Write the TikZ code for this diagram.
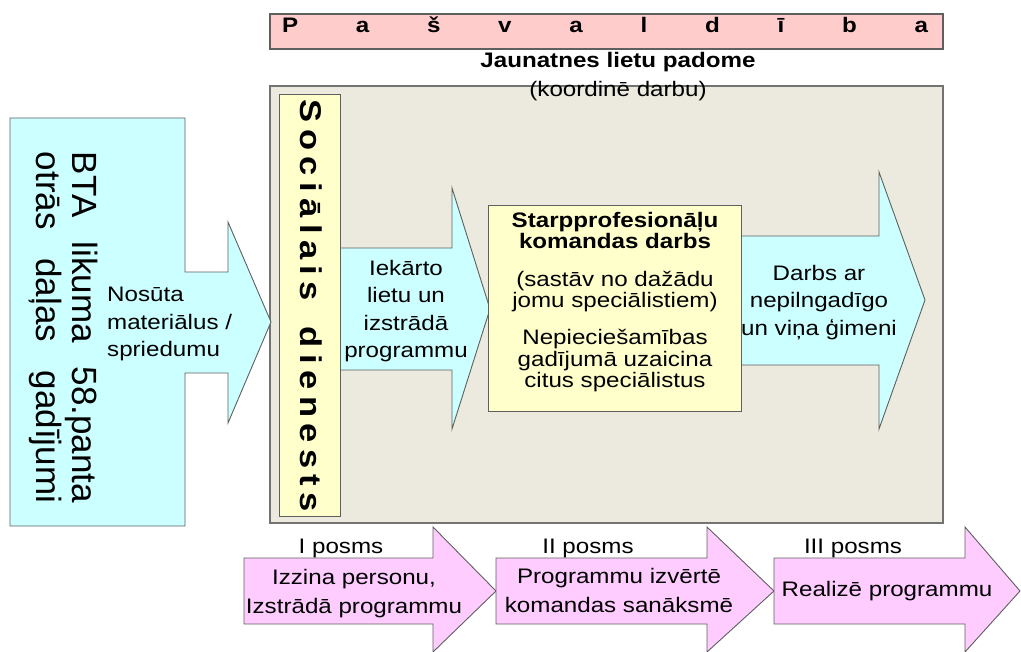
\documentclass[tikz,border=0pt]{standalone}
\usepackage{fontspec}
\setmainfont{Liberation Sans}[FakeStretch=1.15]
\newfontfamily\plainsans{Liberation Sans}
\definecolor{cyanf}{HTML}{CCFFFF}
\definecolor{pinkbar}{HTML}{FFCCCC}
\definecolor{pinkarr}{HTML}{FFCCFF}
\definecolor{yellowf}{HTML}{FFFFCC}
\definecolor{graybg}{HTML}{ECE9DF}
\definecolor{edge}{HTML}{5F5F5F}
\begin{document}
\begin{tikzpicture}[x=1pt,y=-1pt,
  shp/.style={draw=edge, line width=0.9pt, line join=miter},
  body/.style={inner sep=0pt, align=center, font=\fontsize{21}{27.5}\selectfont},
  tight/.style={inner sep=0pt, align=center, font=\fontsize{21}{21.5}\selectfont},
  boldt/.style={inner sep=0pt, align=center, font=\fontsize{21}{21}\selectfont\bfseries},
  posms/.style={inner sep=0pt, anchor=base, font=\fontsize{21}{24}\selectfont},
  stage/.style={inner sep=0pt, align=center, font=\fontsize{21}{29}\selectfont},
]
\useasboundingbox (0,0) rectangle (1021,652);

% top bar
\draw[shp, fill=pinkbar, line width=1.5pt] (270,14) rectangle (943,49);
\node[inner sep=0pt, anchor=base, font=\fontsize{21}{24}\selectfont\bfseries] (pasv) at (605,33)
  {\hbox to 646pt{P\hfill a\hfill š\hfill v\hfill a\hfill l\hfill d\hfill ī\hfill b\hfill a}};
\node[inner sep=0pt, anchor=base, font=\fontsize{21}{24}\selectfont\bfseries] (jlp) at (618,68) {Jaunatnes lietu padome};

% grey panel
\draw[draw=black!55, fill=graybg, line width=1.3pt] (270,86) rectangle (943,523);
\node[inner sep=0pt, anchor=base, font=\fontsize{21}{24}\selectfont] (koord) at (618,97) {(koordinē darbu)};

% left arrow callout
\draw[shp, fill=cyanf] (10,118) -- (185,118) -- (185,272) -- (228,272) -- (228,222) -- (271,322)
  -- (228,423) -- (228,373) -- (185,373) -- (185,526) -- (10,526) -- cycle;
\node[inner sep=0pt, anchor=base, rotate=-90, font=\plainsans\fontsize{35}{36}\selectfont] (bta1) at (72,327.5)
  {\makebox[351pt][s]{BTA likuma 58.panta}};
\node[inner sep=0pt, anchor=base, rotate=-90, font=\plainsans\fontsize{35}{36}\selectfont] (bta2) at (36,327.5)
  {\makebox[351pt][s]{otrās daļas gadījumi}};
\node[body, align=left, anchor=west] (nosuta) at (107,324) {Nosūta\\materiālus /\\spriedumu};

% second cyan arrow
\draw[shp, fill=cyanf] (335,248) -- (452,248) -- (452,188) -- (490,309) -- (452,429) -- (452,370) -- (335,370) -- cycle;
\node[body] (iekarto) at (406,311) {Iekārto\\lietu un\\izstrādā\\programmu};

% vertical yellow bar
\draw[shp, fill=yellowf] (279,94) rectangle (340,516);
\node[inner sep=0pt, anchor=base, rotate=-90, font=\fontsize{30}{32}\selectfont\bfseries] (soc) at (300,306)
  {\hbox to 412pt{S\hfill o\hfill c\hfill i\hfill ā\hfill l\hfill a\hfill i\hfill s\hskip 0pt plus 4fill d\hfill i\hfill e\hfill n\hfill e\hfill s\hfill t\hfill s}};

% third cyan arrow
\draw[shp, fill=cyanf] (730,236) -- (879,236) -- (879,172) -- (925,300) -- (879,429) -- (879,365) -- (730,365) -- cycle;
\node[body] (darbs) at (819,302.5) {Darbs ar\\nepilngadīgo\\un viņa ģimeni};

% team box
\draw[shp, fill=yellowf] (488,205) rectangle (741,411);
\node[boldt] (starp) at (615,230) {Starpprofesionāļu\\komandas darbs};
\node[tight] (sastav) at (615,291.5) {(sastāv no dažādu\\jomu speciālistiem)};
\node[tight] (nepiec) at (615,361) {Nepieciešamības\\gadījumā uzaicina\\citus speciālistus};

% stage arrows
\draw[shp, fill=pinkarr] (244,558) -- (433,558) -- (433,527) -- (496,591) -- (433,652) -- (433,624) -- (244,624) -- cycle;
\draw[shp, fill=pinkarr] (496,558) -- (707,558) -- (707,527) -- (774,591) -- (707,652) -- (707,624) -- (496,624) -- cycle;
\draw[shp, fill=pinkarr] (774,558) -- (965,558) -- (965,527) -- (1020,591) -- (965,652) -- (965,624) -- (774,624) -- cycle;

\node[posms] (p1) at (341,553) {I posms};
\node[posms] (p2) at (588,553) {II posms};
\node[posms] (p3) at (853,553) {III posms};
\node[stage] (p1t) at (354,594) {Izzina personu,\\Izstrādā programmu};
\node[stage] (p2t) at (619,590) {Programmu izvērtē\\komandas sanāksmē};
\node[stage] (p3t) at (887,591) {Realizē programmu};
\end{tikzpicture}
\end{document}
